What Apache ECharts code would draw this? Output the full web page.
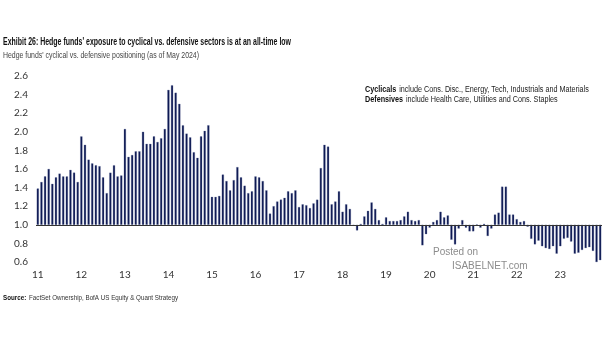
<!DOCTYPE html>
<html>
<head>
<meta charset="utf-8">
<script src="https://cdn.jsdelivr.net/npm/echarts@6/dist/echarts.min.js"></script>
<style>
html,body{margin:0;padding:0;background:#fff;}
#chart{width:605px;height:341px;}
</style>
</head>
<body>
<div id="chart"></div>
<script>
// Monthly positioning ratio, Jan 2011 onwards
const years = ['11','12','13','14','15','16','17','18','19','20','21','22','23'];
const v2011 = [1.39,1.46,1.52,1.60,1.44,1.51,1.55,1.52,1.52,1.59,1.56,1.46];
const v2012 = [1.95,1.86,1.70,1.66,1.64,1.63,1.51,1.34,1.56,1.64,1.52,1.53];
const v2013 = [2.03,1.73,1.75,1.79,1.79,2.00,1.87,1.87,1.95,1.89,1.93,2.03];
const v2014 = [2.45,2.50,2.42,2.30,2.07,1.98,1.94,1.78,1.72,1.95,2.01,2.07];
const v2015 = [1.30,1.30,1.31,1.54,1.47,1.37,1.48,1.62,1.51,1.42,1.34,1.36];
const v2016 = [1.52,1.51,1.47,1.37,1.12,1.20,1.25,1.27,1.29,1.36,1.34,1.37];
const v2017 = [1.19,1.22,1.21,1.18,1.23,1.27,1.61,1.86,1.84,1.22,1.25,1.36];
const v2018 = [1.14,1.22,1.17,0.99,0.94,1.01,1.09,1.15,1.24,1.17,1.05,1.01];
const v2019 = [1.08,1.04,1.04,1.04,1.05,1.09,1.14,1.05,1.04,1.05,0.78,0.90];
const v2020 = [0.97,1.03,1.05,1.14,1.08,1.10,0.84,0.79,0.96,1.05,0.97,0.93];
const v2021 = [0.93,1.005,0.97,1.01,0.88,0.96,1.11,1.13,1.41,1.41,1.11,1.11];
const v2022 = [1.06,1.03,1.04,0.98,0.85,0.79,0.83,0.77,0.75,0.74,0.77,0.69];
const v2023 = [0.77,0.85,0.86,0.82,0.69,0.70,0.73,0.75,0.76,0.72,0.60,0.62];
const yTicks = {min: 0.6, max: 2.6, step: 0.2};
const baseLevel = 1.0;

const values = [].concat(v2011,v2012,v2013,v2014,v2015,v2016,v2017,v2018,v2019,v2020,v2021,v2022,v2023);
const categories = [];
years.forEach(y => { for (let m = 1; m <= 12; m++) categories.push(y + '-' + (m < 10 ? '0' + m : m)); });

// text measuring for horizontal condensing
const mctx = document.createElement('canvas').getContext('2d');
function measure(parts) {
  let w = 0;
  parts.forEach(p => { mctx.font = p[1]; w += mctx.measureText(p[0]).width; });
  return w;
}
const F = '"Liberation Sans", Arial, sans-serif';
const titleFont = 'bold 10px ' + F;
const subFont = '9.5px ' + F;
const legB = 'bold 8.5px ' + F, legN = '8.5px ' + F;
const srcB = 'bold 7.5px ' + F, srcN = '7.5px ' + F;
const titleText = "Exhibit 26: Hedge funds' exposure to cyclical vs. defensive sectors is at an all-time low";
const subText = "Hedge funds' cyclical vs. defensive positioning (as of May 2024)";
const sTitle = 288 / measure([[titleText, titleFont]]);
const sSub = 196 / measure([[subText, subFont]]);
const sLeg = 223 / measure([['Cyclicals ', legB], ['include Cons. Disc., Energy, Tech, Industrials and Materials', legN]]);
const sSrc = 174 / measure([['Source: ', srcB], ['FactSet Ownership, BofA US Equity & Quant Strategy', srcN]]);

const chart = echarts.init(document.getElementById('chart'));
const tickFont = 'Lato, "Liberation Sans", sans-serif';
chart.setOption({
  animation: false,
  backgroundColor: '#fff',
  grid: {left: 36, right: 3, top: 76, bottom: 79, containLabel: false},
  xAxis: {
    type: 'category',
    data: categories,
    boundaryGap: true,
    axisLine: {show: false, onZero: false},
    axisTick: {show: false},
    axisLabel: {
      interval: (i) => i % 12 === 0,
      formatter: (v) => v.split('-')[0],
      color: '#333', fontSize: 10, fontFamily: tickFont, margin: 8
    },
    splitLine: {show: false}
  },
  yAxis: {
    type: 'value',
    min: Math.round((yTicks.min - baseLevel) * 10) / 10,
    max: Math.round((yTicks.max - baseLevel) * 10) / 10,
    interval: yTicks.step,
    axisLine: {show: false},
    axisTick: {show: false},
    splitLine: {show: false},
    axisLabel: {
      formatter: (v) => (v + baseLevel).toFixed(1),
      color: '#333', fontSize: 10, fontFamily: tickFont, margin: 8
    }
  },
  series: [{
    type: 'bar',
    data: values.map(v => +(v - baseLevel).toFixed(3)),
    barWidth: '58%',
    itemStyle: {color: '#0b1650', borderColor: '#5b6a9a', borderWidth: 0.3},
    markLine: {
      silent: true,
      symbol: ['none', 'none'],
      label: {show: false},
      lineStyle: {color: '#333', width: 1, type: 'solid'},
      data: [{yAxis: 0}]
    }
  }],
  graphic: [
    {type: 'text', x: 3, y: 37, scaleX: sTitle, style: {text: titleText, font: titleFont, fill: '#111'}},
    {type: 'text', x: 3, y: 50, scaleX: sSub, style: {text: subText, font: subFont, fill: '#444'}},
    {type: 'text', x: 365, y: 84, scaleX: sLeg, style: {
      rich: {
        b: {font: legB, fill: '#111'},
        n: {font: legN, fill: '#222'}
      },
      text: '{b|Cyclicals} {n|include Cons. Disc., Energy, Tech, Industrials and Materials}\n{b|Defensives} {n|include Health Care, Utilities and Cons. Staples}',
      lineHeight: 10.5
    }},
    {type: 'text', x: 3, y: 292, scaleX: sSrc, style: {
      rich: {
        b: {font: srcB, fill: '#111'},
        n: {font: srcN, fill: '#333'}
      },
      text: '{b|Source:} {n|FactSet Ownership, BofA US Equity & Quant Strategy}'
    }},
    {type: 'text', x: 433, y: 247, style: {text: 'Posted on', font: '10px "Liberation Sans", sans-serif', fill: '#8c8c8c'}},
    {type: 'text', x: 452, y: 261, style: {text: 'ISABELNET.com', font: '10px "Liberation Sans", sans-serif', fill: '#8c8c8c'}}
  ]
});
</script>
</body>
</html>
